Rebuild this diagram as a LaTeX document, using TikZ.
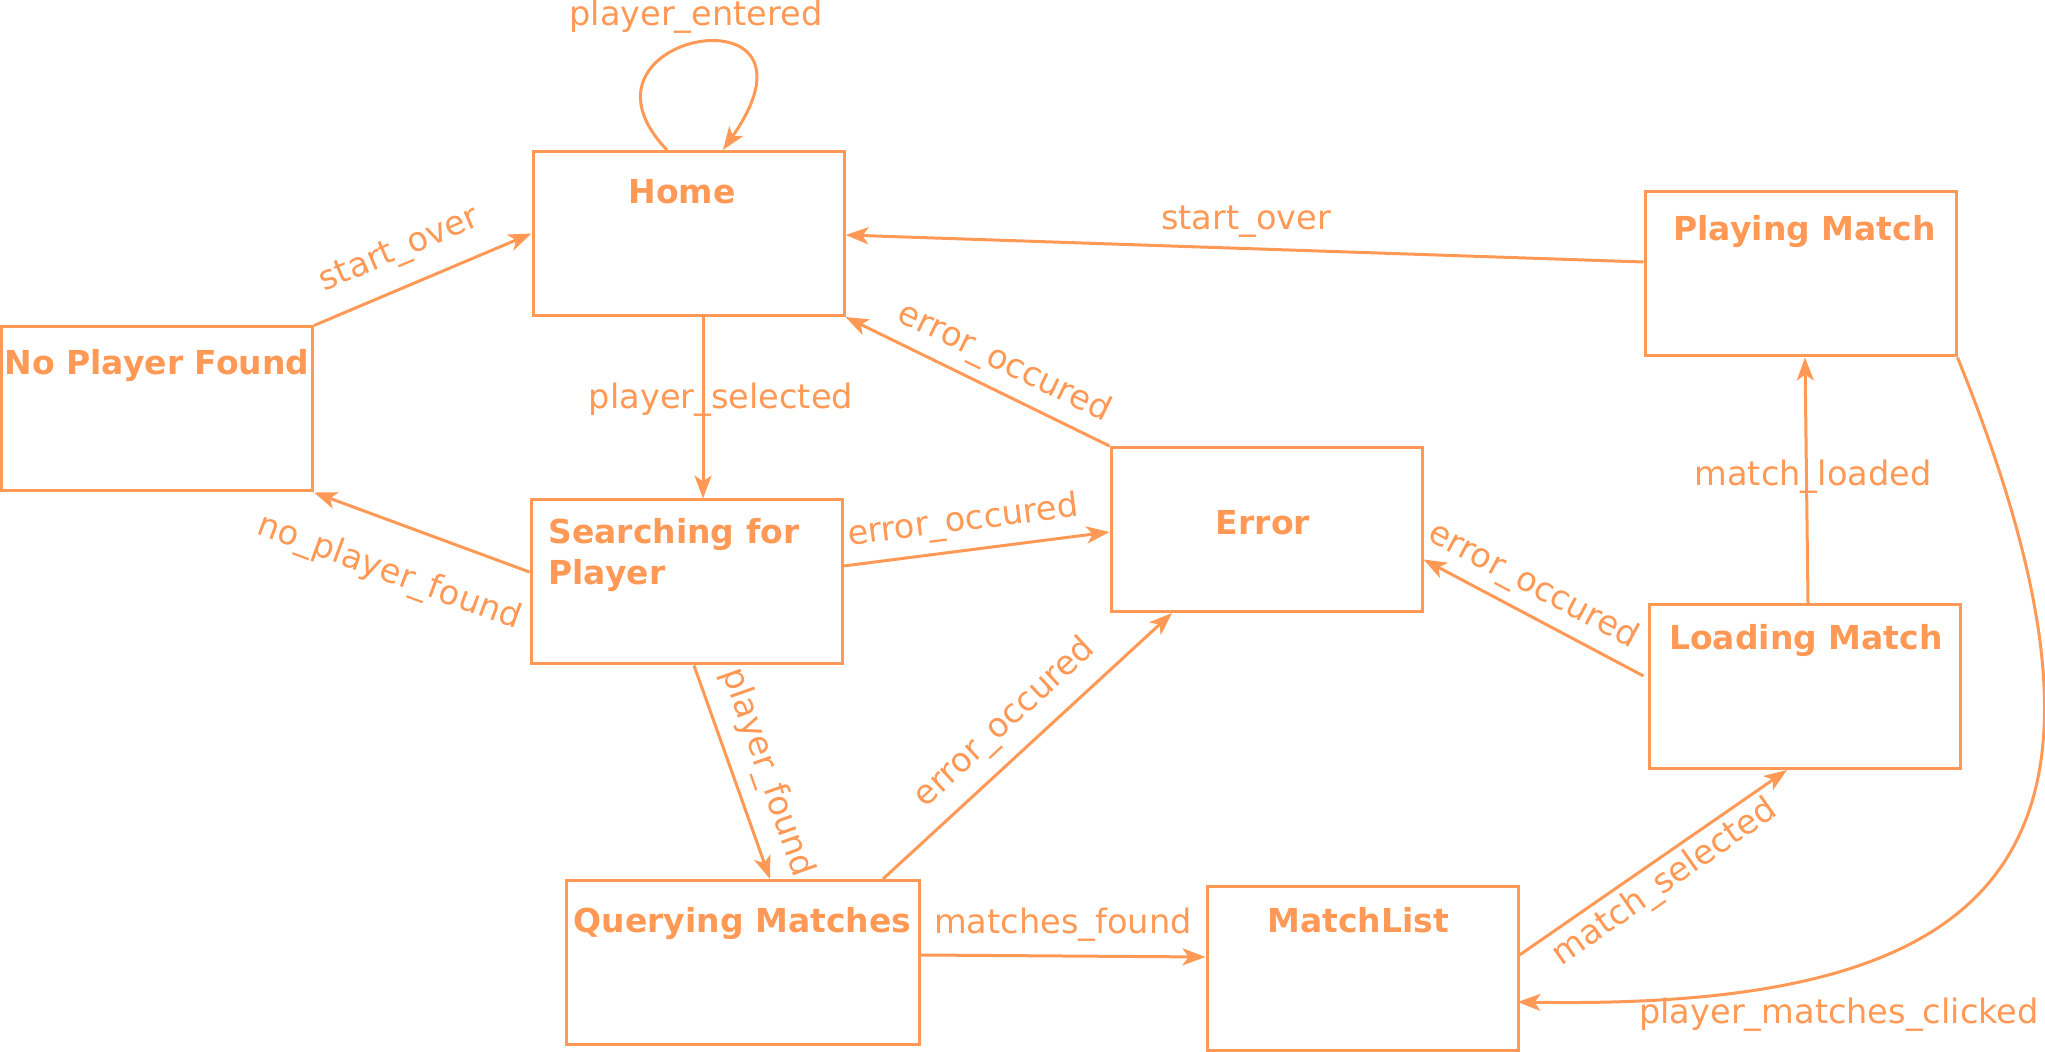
\documentclass[tikz,border=0pt]{standalone}
\usepackage{fontspec}
\setmainfont{DejaVu Sans}
\usetikzlibrary{arrows.meta,calc}
\definecolor{fsm}{RGB}{255,153,85}
\begin{document}
\begin{tikzpicture}[x=0.5pt,y=-0.5pt,
  state/.style={draw=fsm, line width=1.5pt, rectangle, minimum width=155.5pt, minimum height=82pt, inner sep=0pt},
  title/.style={text=fsm, font=\fontsize{16.5}{20.5}\selectfont\bfseries, inner sep=0pt, anchor=base},
  lbl/.style={text=fsm, font=\fontsize{16.8}{20}\selectfont, inner sep=0pt, anchor=center},
  edge/.style={draw=fsm, line width=1.5pt, -{Stealth[length=11.5pt,width=8.5pt,inset=3pt]}},
]
\useasboundingbox (0,0) rectangle (2045,1052);

% states
\node[state] (home) at (688.5,233.5) {};
\node[state] (play) at (1800.5,274) {};
\node[state] (npf) at (157,409) {};
\node[state] (err) at (1266.5,529.5) {};
\node[state] (search) at (686.5,582) {};
\node[state] (load) at (1804.5,686.5) {};
\node[state, minimum width=176.5pt] (query) at (742.5,962.5) {};
\node[state] (mlist) at (1362.5,968) {};

% titles
\node[title] (homeT) at (682,204) {Home};
\node[title] (playT) at (1804.5,241) {Playing Match};
\node[title] (npfT) at (157,375) {No Player Found};
\node[title] (errT) at (1263,535) {Error};
\node[title, anchor=base west, align=left] (searchT) at (548,585) {Searching for\\Player};
\node[title] (loadT) at (1806,650) {Loading Match};
\node[title] (queryT) at (742.5,932) {Querying Matches};
\node[title] (mlistT) at (1358,932) {MatchList};

% connectors
\draw[edge] ($(home.north)+(-21.5,0)$) .. controls ($(home.north)+(-133.5,-117)$) and ($(home.north)+(151.5,-167)$) .. ($(home.north)+(34.5,0)$);
\draw[edge] ($(play.west)+(0,-12)$) -- ($(home.east)+(0,1.5)$);
\draw[edge] (npf.north east) -- (home.west);
\draw[edge] ($(home.south)+(14.5,0)$) -- ($(search.north)+(16.5,0)$);
\draw[edge] (err.north west) -- (home.south east);
\draw[edge] ($(search.west)+(0,-10)$) -- (npf.south east);
\draw[edge] ($(search.east)+(0,-16)$) -- ($(err.west)+(0,2.5)$);
\draw[edge] ($(load.north)+(3.5,0)$) -- ($(play.south)+(4.5,0)$);
\draw[edge] ($(load.west)+(-4,-10.5)$) -- ($(err.east)+(0,30)$);
\draw[edge] ($(search.south)+(7.5,0)$) -- ($(query.north)+(27.5,0)$);
\draw[edge] ($(query.north)+(140.5,0)$) -- ($(err.south)+(-94.5,0)$);
\draw[edge] ($(query.east)+(0,-7.5)$) -- ($(mlist.west)+(0,-11)$);
\draw[edge] ($(mlist.east)+(0,-13)$) -- ($(load.south)+(-17.5,0)$);
\draw[edge] (play.south east) .. controls ($(play.south east)+(204,504)$) and ($(mlist.east)+(482,42)$) .. ($(mlist.east)+(-2,34)$);

% labels
\node[lbl] (lEnter) at (696,17) {player\_entered};
\node[lbl] (lStart1) at (1246,222) {start\_over};
\node[lbl, rotate=23] (lStart2) at (400,251) {start\_over};
\node[lbl] (lSel) at (721,400) {player\_selected};
\node[lbl, rotate=-26] (lErr1) at (1004,363) {error\_occured};
\node[lbl, rotate=-20.3] (lNo) at (389,573) {no\_player\_found};
\node[lbl, rotate=7.2] (lErr2) at (963,522) {error\_occured};
\node[lbl] (lLoaded) at (1813,477) {match\_loaded};
\node[lbl, rotate=-28] (lErr3) at (1533,586) {error\_occured};
\node[lbl, rotate=-70.6] (lFound) at (767,773) {player\_found};
\node[lbl, rotate=42.8] (lErr4) at (1005,723) {error\_occured};
\node[lbl] (lMatches) at (1063,925) {matches\_found};
\node[lbl, rotate=35] (lMsel) at (1665,883) {match\_selected};
\node[lbl] (lPmc) at (1839,1015) {player\_matches\_clicked};
\end{tikzpicture}
\end{document}
